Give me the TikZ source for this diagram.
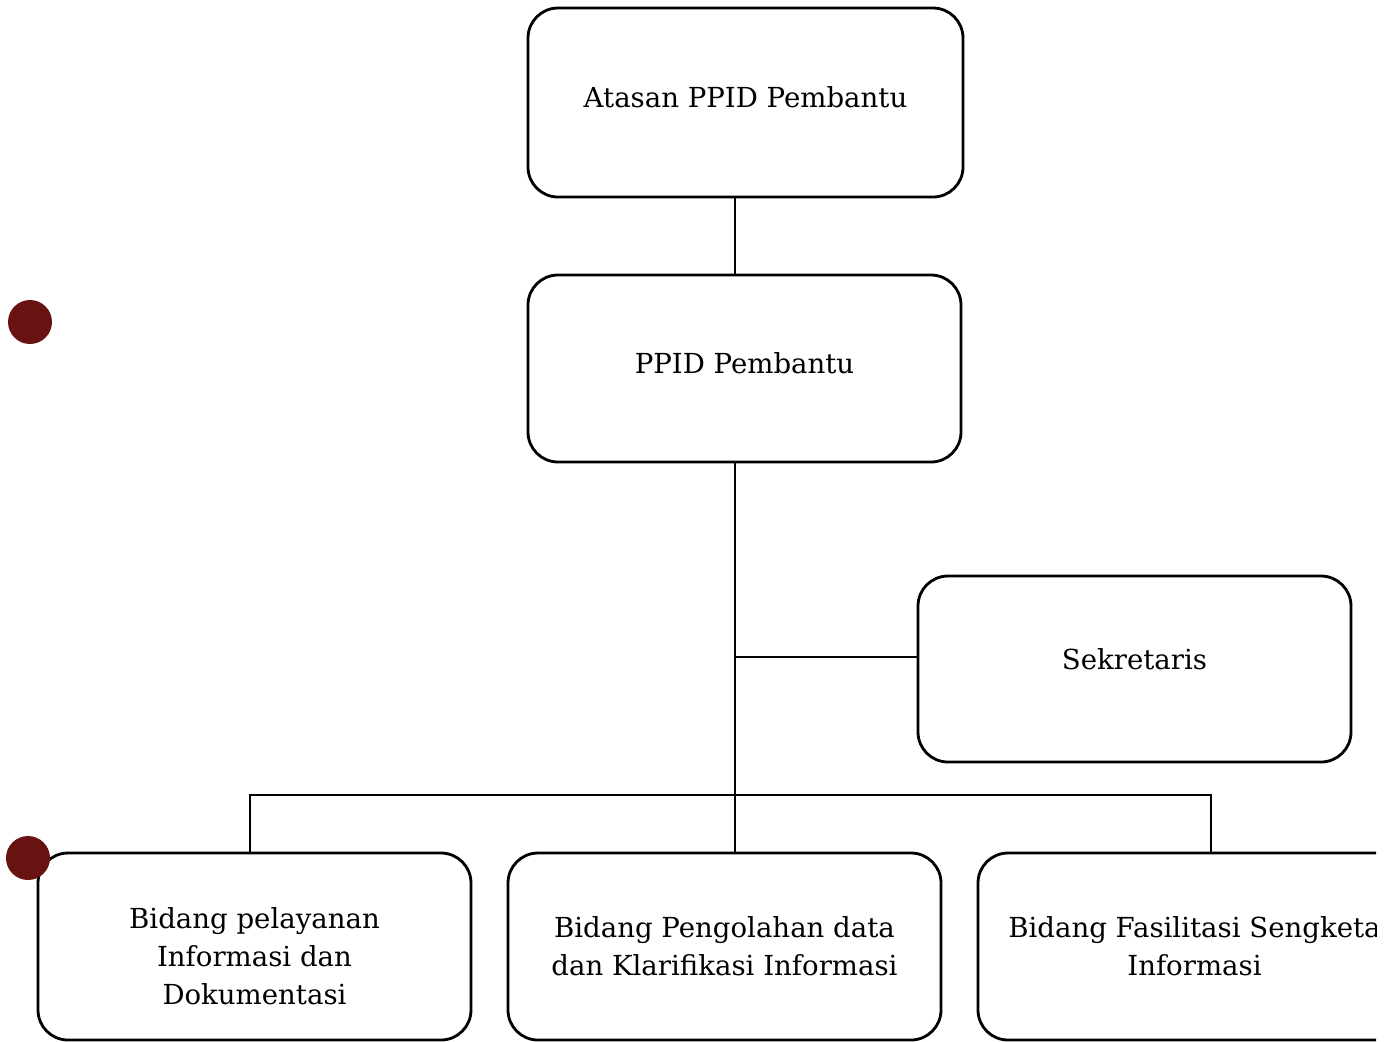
\documentclass[tikz,border=0pt]{standalone}
\usepackage{fontspec}
\setmainfont{DejaVu Serif}
\definecolor{holered}{RGB}{105,18,18}
\tikzset{
  unitbox/.style={draw, line width=0.8pt, rounded corners=0.3cm, minimum width=4.33cm,
    minimum height=1.87cm, align=center, font=\fontsize{7.85}{10.8}\selectfont},
  link/.style={line width=0.8pt}
}
\begin{document}
\begin{tikzpicture}
        \useasboundingbox (0,0) rectangle (13.94,-10.41);
        \clip (0,0) rectangle (13.76,-10.41);
        % boxes
        \node[unitbox, minimum width=4.35cm, minimum height=1.89cm, text depth=0.1cm] (atasan) at (7.455,-1.025) {Atasan PPID Pembantu};
        \node[unitbox, text depth=0.1cm] (ppid) at (7.445,-3.685) {PPID Pembantu};
        \node[unitbox, minimum height=1.86cm, text depth=0.2cm] (sekretaris) at (11.345,-6.69) {Sekretaris};
        \node[unitbox] (pelayanan) at (2.545,-9.465) {\rule{0pt}{0.4cm}Bidang pelayanan\\Informasi dan\\Dokumentasi};
        \node[unitbox] (pengolahan) at (7.245,-9.465) {Bidang Pengolahan data\\dan Klarifikasi Informasi};
        \node[unitbox] (fasilitasi) at (11.945,-9.465) {Bidang Fasilitasi Sengketa\\Informasi};
        % connectors
        \coordinate (spine) at (7.35,-6.57);
        \coordinate (bar) at (7.35,-7.95);
        \draw[link] (atasan.south -| spine) -- (ppid.north -| spine);
        \draw[link] (ppid.south -| spine) -- (pengolahan.north -| spine);
        \draw[link] (spine) -- (sekretaris.west |- spine);
        \draw[link] (pelayanan.north -| 2.5,0) -- (2.5,-7.95) -- (12.11,-7.95) -- (fasilitasi.north -| 12.11,0);
        % punch holes
        \fill[holered] (0.3,-3.22) circle (0.22cm);
        \fill[holered] (0.28,-8.58) circle (0.22cm);
\end{tikzpicture}
\end{document}
